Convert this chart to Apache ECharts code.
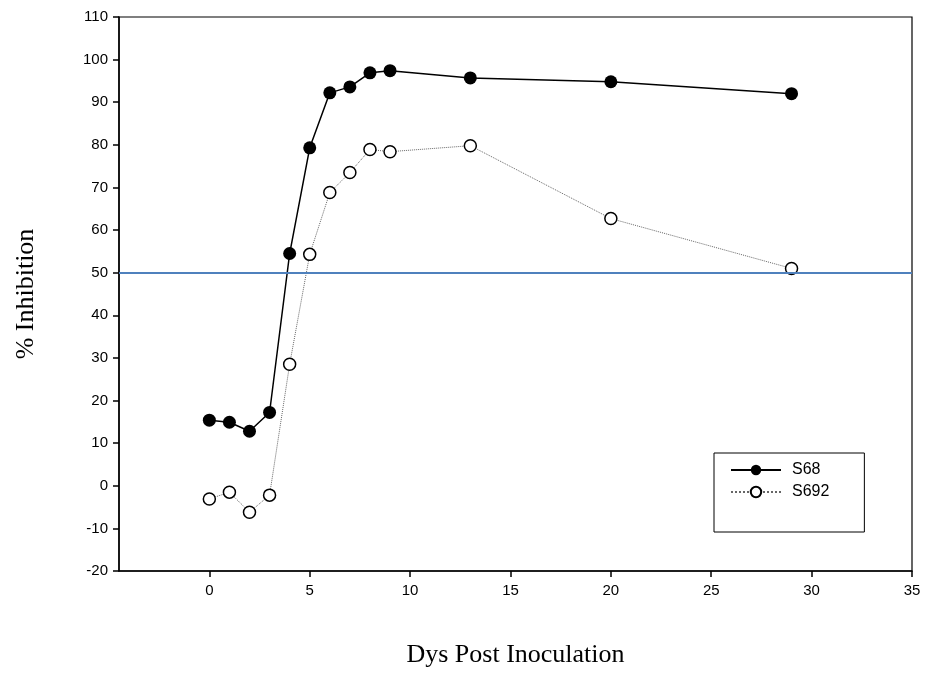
<!DOCTYPE html>
<html>
<head>
<meta charset="utf-8">
<script src="https://cdn.jsdelivr.net/npm/echarts@6/dist/echarts.min.js"></script>
<style>
  html, body { margin: 0; padding: 0; background: #fff; }
  #chart { width: 926px; height: 673px; }
</style>
</head>
<body>
<div id="chart"></div>
<script>
// days post inoculation
const days = [0, 1, 2, 3, 4, 5, 6, 7, 8, 9, 13, 20, 29];
const s68 = [15.4, 14.9, 12.8, 17.2, 54.5, 79.3, 92.2, 93.6, 96.9, 97.4, 95.7, 94.8, 92.0];
const s692 = [-3.1, -1.5, -6.2, -2.2, 28.5, 54.3, 68.8, 73.5, 78.9, 78.4, 79.8, 62.7, 51.0];
const xTicks = [0, 5, 10, 15, 20, 25, 30, 35];
const refLine = 50;

function pairs(xs, ys) {
    return xs.map((x, i) => [x, ys[i]]);
}

let chart = echarts.init(document.getElementById('chart'));
chart.setOption({
    animation: false,
    grid: {
        left: 119, top: 17, right: 14, bottom: 101,
        show: true, borderColor: '#000', borderWidth: 1.2
    },
    legend: {
        left: 714, top: 453,
        orient: 'vertical',
        padding: [9, 35, 32, 16],
        itemGap: 6,
        itemWidth: 50,
        itemHeight: 13,
        borderColor: '#000',
        borderWidth: 1,
        textStyle: { fontFamily: 'Liberation Sans', fontSize: 16, color: '#000', padding: [0, 0, 0, 6] },
        data: ['S68', 'S692']
    },
    xAxis: {
        type: 'value',
        min: -4.5, max: 35,
        name: 'Dys Post Inoculation',
        nameLocation: 'middle',
        nameGap: 71,
        nameTextStyle: { fontFamily: 'Liberation Serif', fontSize: 26, color: '#000' },
        axisLine: { onZero: false, lineStyle: { color: '#000', width: 1.5 } },
        axisTick: { customValues: xTicks, length: 6, lineStyle: { color: '#000', width: 1.5 } },
        axisLabel: { customValues: xTicks, margin: 12, fontFamily: 'Liberation Sans', fontSize: 15, color: '#000' },
        splitLine: { show: false }
    },
    yAxis: {
        type: 'value',
        min: -20, max: 110, interval: 10,
        name: '% Inhibition',
        nameLocation: 'middle',
        nameGap: 80,
        nameTextStyle: { fontFamily: 'Liberation Serif', fontSize: 26, color: '#000' },
        axisLine: { onZero: false, lineStyle: { color: '#000', width: 1.5 } },
        axisTick: { length: 6, lineStyle: { color: '#000', width: 1.5 } },
        axisLabel: { margin: 11, fontFamily: 'Liberation Sans', fontSize: 15, color: '#000' },
        splitLine: { show: false }
    },
    series: [
        {
            name: 'S68',
            type: 'line',
            data: pairs(days, s68),
            symbol: 'circle',
            symbolSize: 13,
            itemStyle: { color: '#000' },
            lineStyle: { color: '#000', width: 1.5 },
            z: 3,
            markLine: {
                silent: true,
                symbol: 'none',
                label: { show: false },
                lineStyle: { color: '#4f81bd', width: 2, type: 'solid' },
                data: [{ yAxis: refLine }]
            }
        },
        {
            name: 'S692',
            type: 'line',
            data: pairs(days, s692),
            symbol: 'circle',
            symbolSize: 12,
            itemStyle: { color: '#fff', borderColor: '#000', borderWidth: 1.5 },
            lineStyle: { color: '#666', width: 1, type: 'dotted' },
            z: 4
        }
    ]
});
</script>
</body>
</html>
